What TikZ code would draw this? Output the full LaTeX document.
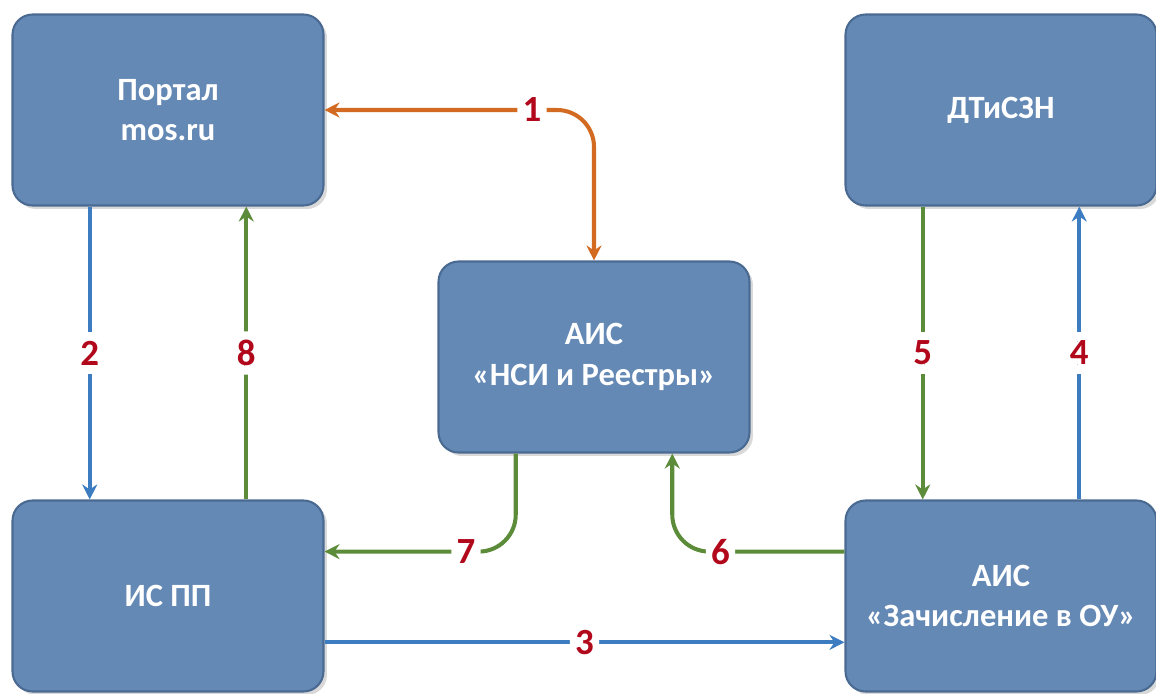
\documentclass[tikz,border=0pt]{standalone}
\usepackage{fontspec}
\setmainfont{Carlito}
\usetikzlibrary{positioning,calc,shadows,arrows.meta}

\definecolor{boxfill}{RGB}{100,137,181}
\definecolor{boxline}{RGB}{74,106,146}
\definecolor{flowblue}{RGB}{59,125,192}
\definecolor{flowgreen}{RGB}{92,140,58}
\definecolor{floworange}{RGB}{211,106,33}
\definecolor{stepred}{RGB}{178,8,28}

\begin{document}
\begin{tikzpicture}[x=0.02cm,y=0.02cm,font=\bfseries,
    >={Stealth[length=0.3cm,width=0.3cm,inset=0.1cm]},
    sysbox/.style={rectangle, rounded corners=0.4cm, draw=boxline, line width=1.2pt,
      fill=boxfill, text=white, align=center, minimum width=6.22cm, minimum height=3.82cm,
      font=\fontsize{18.5}{23}\selectfont\bfseries,
      drop shadow={shadow xshift=0.07cm, shadow yshift=-0.07cm, opacity=0.3}},
    flow/.style={line width=2.3pt, rounded corners=0.74cm},
    num/.style={fill=white, draw=white, line width=1pt, text=stepred, inner xsep=2.5pt,
      inner ysep=4.5pt, font=\fontsize{21}{21}\selectfont\bfseries}]

  % \draw[help lines] (0,0) grid[step=50] (1156,-693);
  \useasboundingbox (0,0) rectangle (1156,-693);

  \node [sysbox] (portal) at (168,-110) {Портал\\mos.ru};
  \node [sysbox] (dtszn) at (1001,-110) {ДТиСЗН};
  \node [sysbox] (nsi) at (594,-357) {АИС\\«НСИ и Реестры»};
  \node [sysbox] (ispp) at (168,-596) {ИС ПП};
  \node [sysbox] (zou) at (1001,-596) {АИС\\«Зачисление в ОУ»};

  % 1
  \draw [flow, floworange, <->] (portal.east) -| node [num, pos=0.385] (n1) {1} (nsi.north);
  % 2 and 8
  \draw [flow, flowblue, ->] ($(portal.south west)!0.25!(portal.south east)$)
    -- node [num] (n2) {2} ($(ispp.north west)!0.25!(ispp.north east)$);
  \draw [flow, flowgreen, ->] ($(ispp.north west)!0.75!(ispp.north east)$)
    -- node [num] (n8) {8} ($(portal.south west)!0.75!(portal.south east)$);
  % 5 and 4
  \draw [flow, flowgreen, ->] ($(dtszn.south west)!0.25!(dtszn.south east)$)
    -- node [num] (n5) {5} ($(zou.north west)!0.25!(zou.north east)$);
  \draw [flow, flowblue, ->] ($(zou.north west)!0.75!(zou.north east)$)
    -- node [num] (n4) {4} ($(dtszn.south west)!0.75!(dtszn.south east)$);
  % 7 and 6
  \draw [flow, flowgreen, ->] ($(nsi.south west)!0.25!(nsi.south east)$)
    |- node [num, pos=0.63] (n7) {7} ($(ispp.north east)!0.27!(ispp.south east)$);
  \draw [flow, flowgreen, ->] ($(zou.north west)!0.27!(zou.south west)$)
    -| node [num, pos=0.36] (n6) {6} ($(nsi.south west)!0.75!(nsi.south east)$);
  % 3
  \draw [flow, flowblue, ->] ($(ispp.north east)!0.74!(ispp.south east)$)
    -- node [num] (n3) {3} ($(zou.north west)!0.74!(zou.south west)$);

\end{tikzpicture}
\end{document}
